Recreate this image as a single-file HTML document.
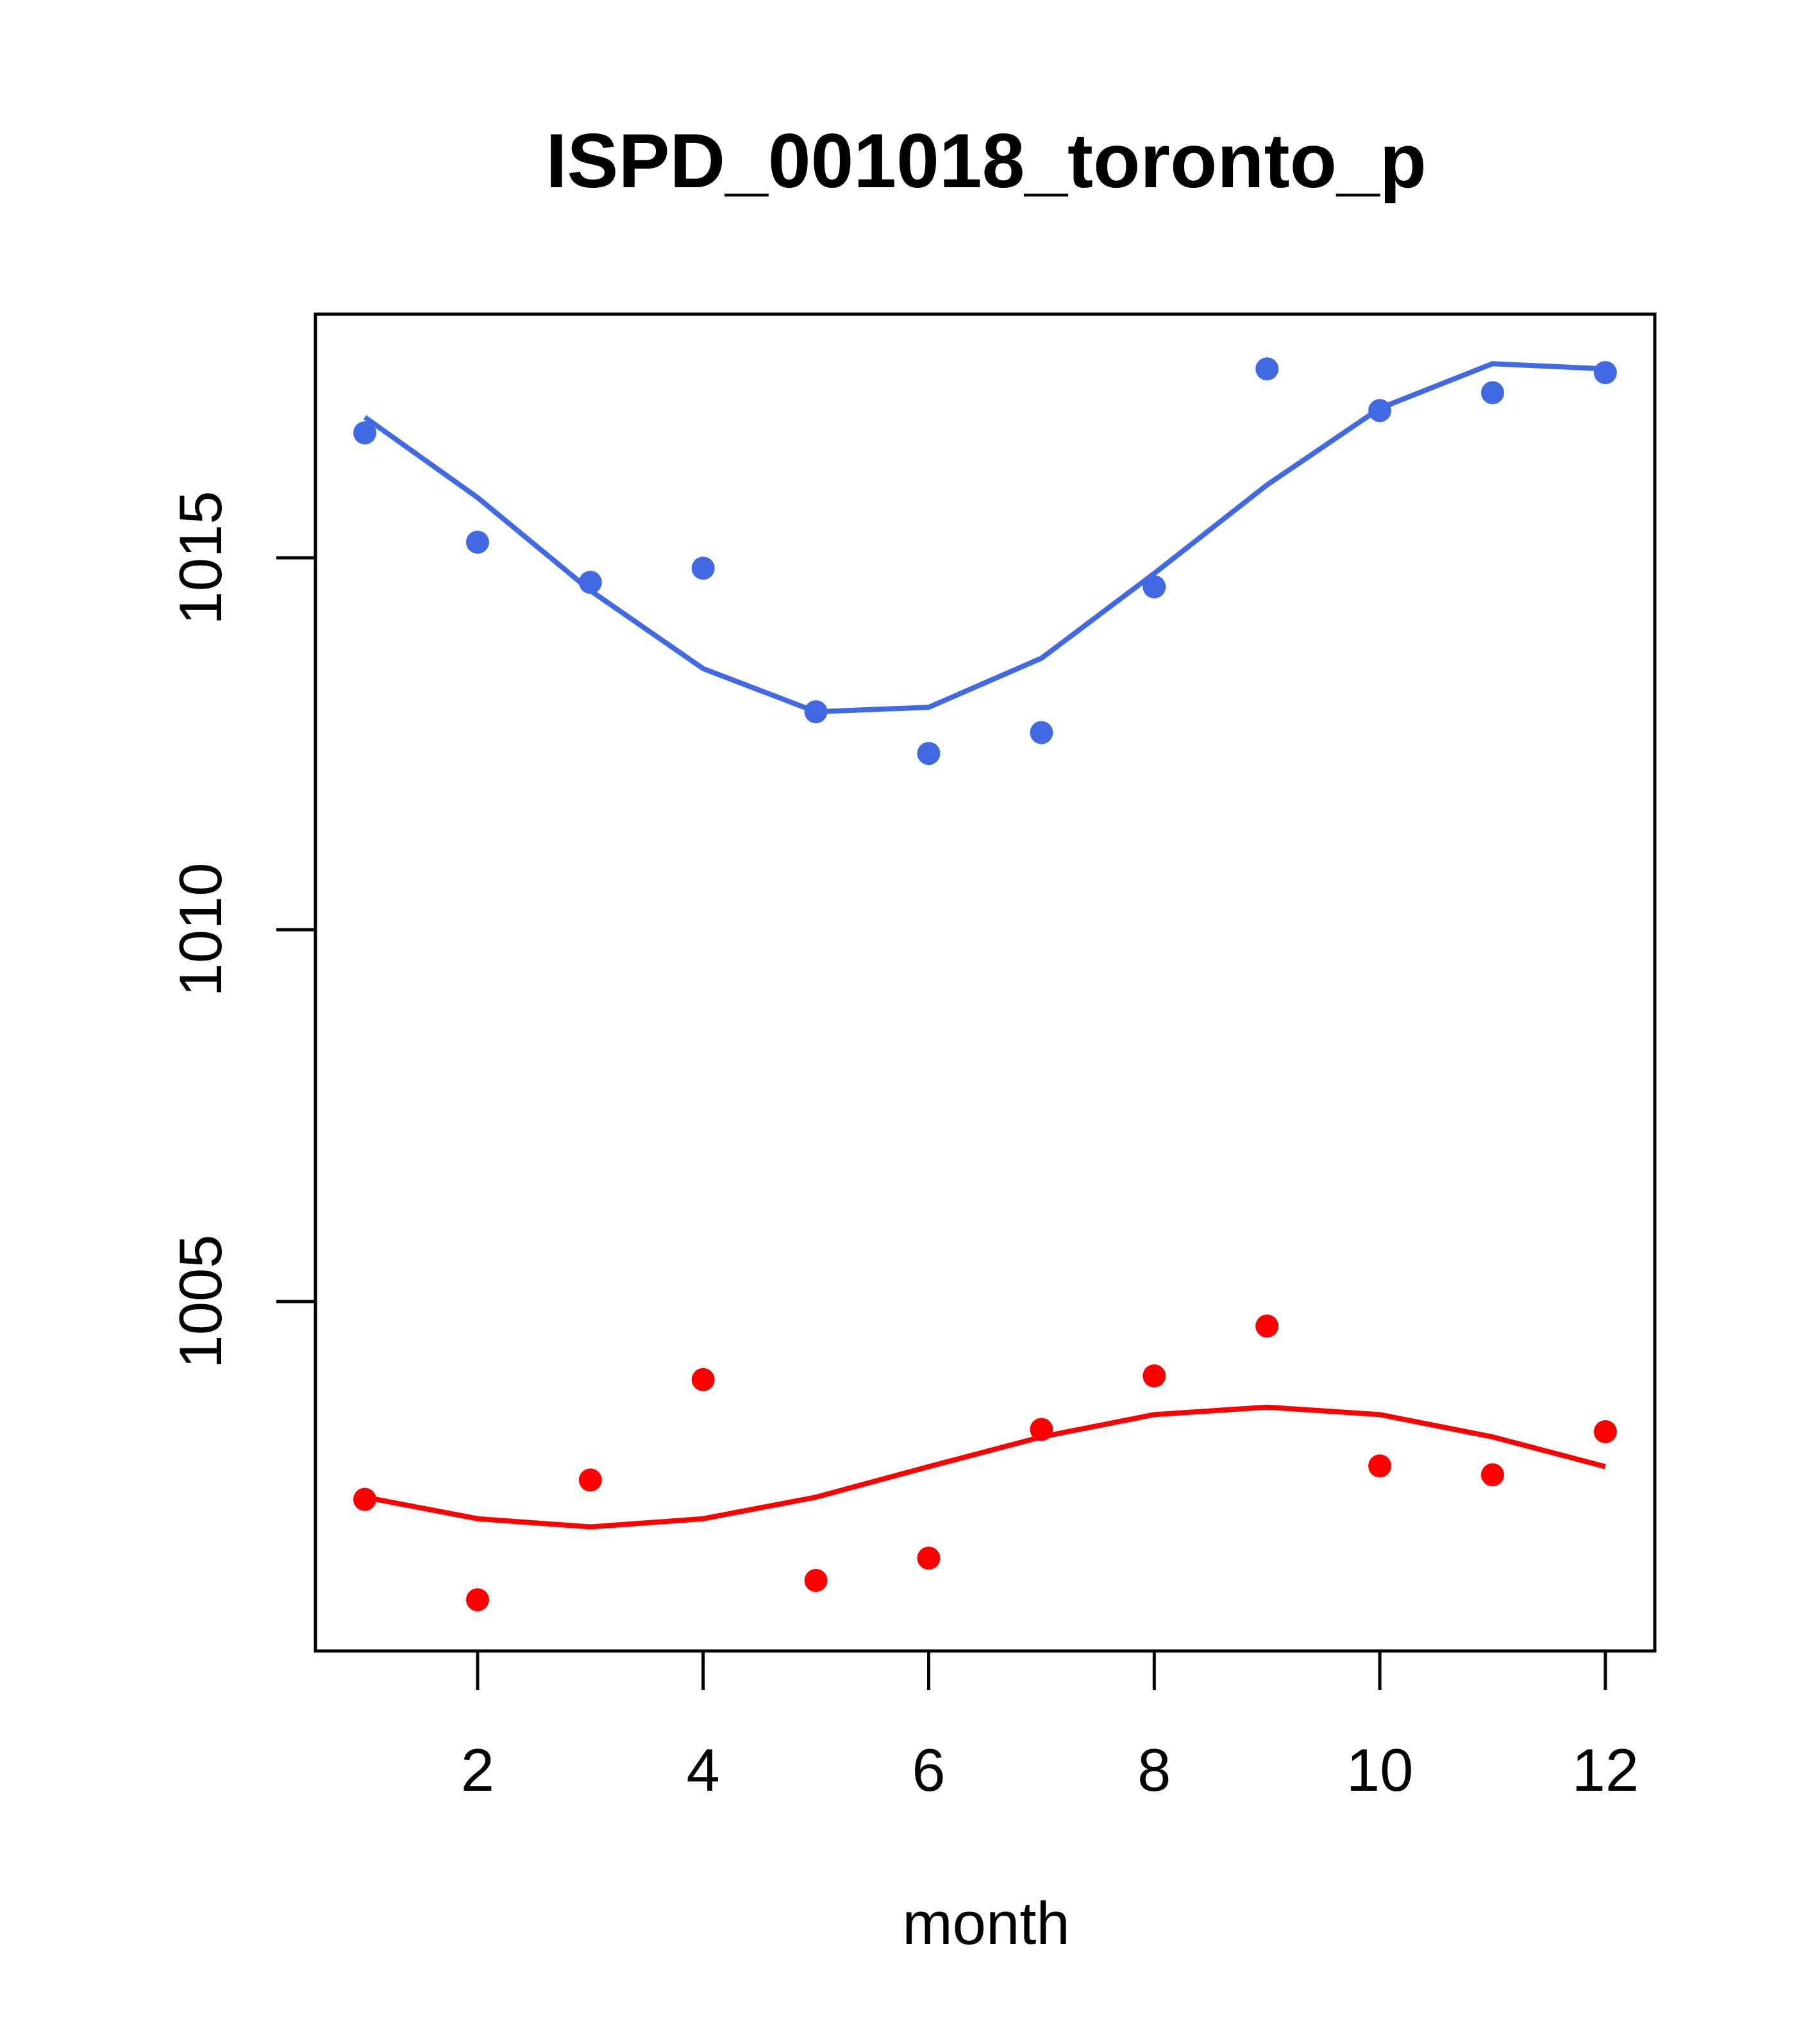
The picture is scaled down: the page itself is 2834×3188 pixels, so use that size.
<!DOCTYPE html>
<html><head><meta charset="utf-8"><style>body{margin:0;background:#fff}svg{display:block}</style></head>
<body>
<svg id="chart" width="2834" height="3188" xmlns="http://www.w3.org/2000/svg" font-family="Liberation Sans, sans-serif">
<rect width="2834" height="3188" fill="#fff"/>
<text x="1538" y="292" font-size="120" font-weight="bold" text-anchor="middle">ISPD_001018_toronto_p</text>
<rect x="492" y="490" width="2089" height="2085" fill="none" stroke="#000" stroke-width="5"/>
<text x="1538" y="3032" font-size="94" text-anchor="middle">month</text>
<g id="marks"></g>
</svg>
<script>
const months=[1,2,3,4,5,6,7,8,9,10,11,12];
const blueObs=[1016.68,1015.21,1014.67,1014.86,1012.93,1012.37,1012.65,1014.61,1017.54,1016.98,1017.22,1017.49];
const blueFit=[1016.89,1015.81,1014.56,1013.51,1012.93,1012.99,1013.65,1014.79,1015.98,1017.01,1017.61,1017.54];
const redObs=[1002.34,1000.99,1002.60,1003.95,1001.25,1001.55,1003.28,1004.00,1004.67,1002.79,1002.67,1003.25];
const redFit=[1002.37,1002.08,1001.97,1002.08,1002.37,1002.78,1003.18,1003.48,1003.58,1003.48,1003.18,1002.78];
const xTicks=[2,4,6,8,10,12];
const yTicks=[1005,1010,1015];
const NS="http://www.w3.org/2000/svg";
const X=m=>569+(m-1)*175.9;
const Y=v=>870+(1015-v)*116;
const g=document.getElementById('marks');
function mk(t,a){const e=document.createElementNS(NS,t);for(const k in a)e.setAttribute(k,a[k]);g.appendChild(e);return e;}
xTicks.forEach(t=>{
  const l=mk('line',{x1:X(t),x2:X(t),y1:2575,y2:2636,stroke:'#000','stroke-width':5});
  
  
  const tx=mk('text',{x:X(t),y:2793,'font-size':94,'text-anchor':'middle'});tx.textContent=t;
  
  
});
yTicks.forEach(t=>{
  const l=mk('line',{x1:431,x2:492,y1:Y(t),y2:Y(t),stroke:'#000','stroke-width':5});
  
  
  const tx=mk('text',{x:345,y:Y(t),'font-size':94,'text-anchor':'middle',transform:`rotate(-90 345 ${Y(t)})`});tx.textContent=t;
  
  
});
function series(obs,fit,col,name){
  const p=mk('polyline',{points:months.map((m,i)=>X(m)+','+Y(fit[i])).join(' '),fill:'none',stroke:col,'stroke-width':8});
  
  
  months.forEach((m,i)=>{
    const c=mk('circle',{cx:X(m),cy:Y(obs[i]),r:18,fill:col});
    
    
  });
}
series(blueObs,blueFit,'#4169e1','blue');
series(redObs,redFit,'#ff0000','red');
</script>
</body></html>
